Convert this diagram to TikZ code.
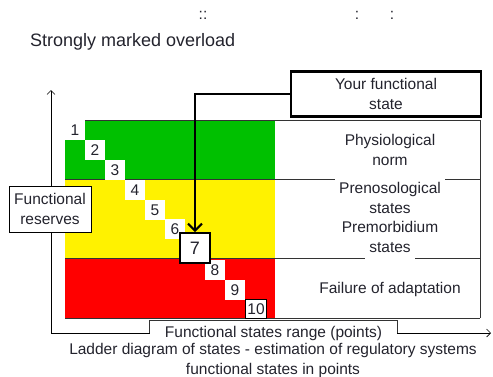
\documentclass[tikz,border=0pt]{standalone}
\usepackage{fontspec}
\setmainfont{Liberation Sans}
\usetikzlibrary{arrows.meta}
\definecolor{normgreen}{RGB}{0,192,0}
\definecolor{inkgray}{RGB}{35,35,45}
\tikzset{
  txt/.style={font=\fontsize{15.5}{19.5}\selectfont, text=inkgray, inner sep=0pt, align=center},
  cell/.style={txt, fill=white, minimum width=20pt, minimum height=20pt},
  labelbox/.style={txt, draw=black, fill=white},
  axis/.style={draw=black, line width=0.6pt, -{Straight Barb[length=4pt,width=8pt]}},
  band/.style={draw=black!80, line width=0.8pt},
}

\begin{document}
\begin{tikzpicture}[x=1pt, y=-1pt]
    \useasboundingbox (0,0) rectangle (493,376);
    % marks of a cut-off line
    \node[txt] (markA) at (203,15) {::};
    \node[txt] (markB) at (357,15) {:};
    \node[txt] (markC) at (392,15) {:};
    \node[txt, font=\fontsize{18}{22}\selectfont, anchor=west] (title) at (30,42) {Strongly marked overload};

    % axes
    \coordinate (org) at (51,333);
    \coordinate (ytip) at (51,90);
    \coordinate (xtip) at (491,333);
    \draw[axis] (org) -- (ytip);
    \draw[axis] (org) -- (xtip);

    % colour bands
    \fill[normgreen] (65,120) rectangle (275,179);
    \fill[yellow] (65,179) rectangle (275,258);
    \fill[red] (65,258) rectangle (275,318);
    \foreach \y in {120,179,258,318} {
        \draw[band] (65,\y) -- (480,\y);
    }
    \draw[band] (480,120) -- (480,318);

    % ladder of states
    \foreach \n/\x/\y in {1/75/130, 2/95/150, 3/115/170, 4/135/190, 5/155/210, 6/175/229, 8/215/270, 9/235/290} {
        \node[cell] (s\n) at (\x,\y) {\n};
    }
    \node[cell, draw=black, line width=0.8pt, minimum width=21pt, minimum height=19pt] (s10) at (256,309) {10};
    \node[labelbox, line width=2pt, minimum size=30pt, font=\fontsize{18}{22}\selectfont] (s7) at (195,248) {7};

    % zone names
    \node[txt] (norm) at (390,150) {Physiological\\norm};
    \foreach \i/\y/\lab in {1/190/Prenosological, 2/210/states, 3/229/Premorbidium, 4/249/states} {
        \node[txt, fill=white, inner xsep=4pt, inner ysep=4pt, text height=11pt, text depth=4pt] (pre\i) at (390,\y) {\lab};
    }
    \node[txt] (fail) at (390,289) {Failure of adaptation};

    % your state
    \node[labelbox, line width=2.5pt, minimum width=190pt, minimum height=45pt] (you) at (386,94) {Your functional\\state};
    \draw[line width=2pt, -{Straight Barb[length=7pt,width=14pt]}] (you.west) -| (s7.north);

    \node[labelbox, line width=1pt, minimum width=82pt, minimum height=46pt] (reserves) at (50,209) {Functional\\reserves};

    % range label
    \node[txt, fill=white, minimum width=247pt, minimum height=24pt] (range) at (273.5,333) {Functional states range (points)};
    \draw[band] (range.south west |- org) -- (range.north west) -- (range.north east) -- (range.south east |- org);
    \node[txt] (caption) at (273,360.5) {Ladder diagram of states - estimation of regulatory systems\\functional states in points};
\end{tikzpicture}
\end{document}
